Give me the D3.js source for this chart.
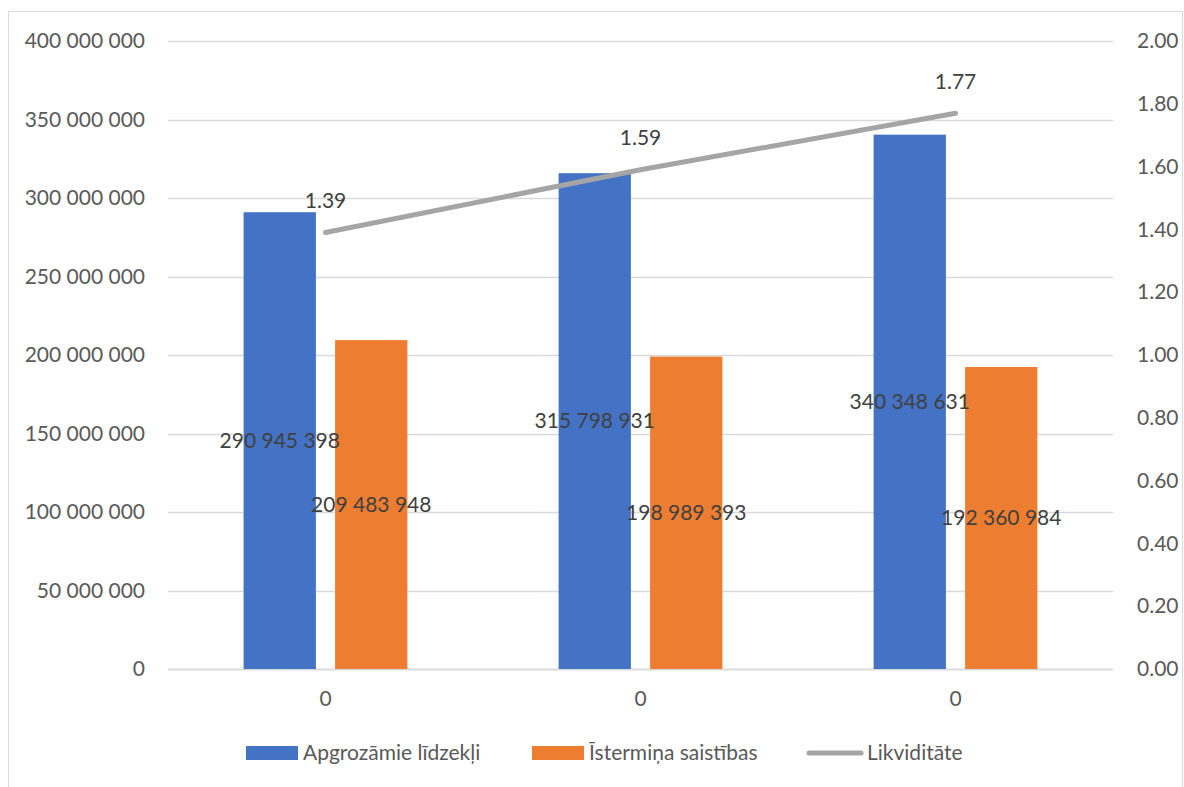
<!DOCTYPE html>
<html><head><meta charset="utf-8">
<script src="https://cdn.jsdelivr.net/npm/d3@7"></script>
<style>body{margin:0;background:#fff}svg{display:block;font-family:Lato,"Open Sans",sans-serif}</style>
</head><body><svg id="c" width="1184" height="787"></svg>
<script>
const categories = ["0","0","0"];
const seriesNames = ["Apgrozāmie līdzekļi","Īstermiņa saistības","Likviditāte"];
const currentAssets = [290945398, 315798931, 340348631];
const shortLiabilities = [209483948, 198989393, 192360984];
const liquidity = [1.39, 1.59, 1.77];
const leftTicks = [0,50000000,100000000,150000000,200000000,250000000,300000000,350000000,400000000];
const rightTicks = [0,0.2,0.4,0.6,0.8,1.0,1.2,1.4,1.6,1.8,2.0];

const colors = ["#4472C4","#ED7D31","#A5A5A5"];
const FS = 21;
const svg = d3.select("#c");
const L=168, R=1113, T=41, B=669;

svg.append("rect").attr("x",8.5).attr("y",11.5).attr("width",1174).attr("height",790)
  .attr("fill","#fff").attr("stroke","#D9D9D9");

const fmt = v => d3.format(",")(v).replace(/,/g," ");
const x = d3.scaleBand().domain(d3.range(categories.length)).range([L,R]);
const yL = d3.scaleLinear().domain([0,400000000]).range([B,T]);
const yR = d3.scaleLinear().domain([0,2]).range([B,T]);

// gridlines
svg.append("g").selectAll("line").data(leftTicks).join("line")
  .attr("x1",L).attr("x2",R).attr("y1",d=>Math.round(yL(d))+0.5).attr("y2",d=>Math.round(yL(d))+0.5)
  .attr("stroke","#D9D9D9").attr("stroke-width",1.3);

// left axis
const axL = svg.append("g").attr("transform",`translate(${L},0)`)
  .call(d3.axisLeft(yL).tickValues(leftTicks).tickFormat(fmt).tickSize(0).tickPadding(23));
axL.select(".domain").remove();
axL.selectAll("text").attr("fill","#595959").attr("font-size",FS).attr("font-family","Lato, sans-serif");

const axR = svg.append("g").attr("transform",`translate(${R},0)`)
  .call(d3.axisRight(yR).tickValues(rightTicks).tickFormat(d3.format(".2f")).tickSize(0).tickPadding(24));
axR.select(".domain").remove();
axR.selectAll("text").attr("fill","#595959").attr("font-size",FS).attr("font-family","Lato, sans-serif");

// category axis
const axB = svg.append("g").attr("transform",`translate(0,${B})`)
  .call(d3.axisBottom(x).tickFormat(i=>categories[i]).tickSize(0).tickPadding(22));
axB.select(".domain").remove();
axB.selectAll("text").attr("fill","#595959").attr("font-size",FS).attr("font-family","Lato, sans-serif");
svg.append("line").attr("x1",L).attr("x2",R).attr("y1",B+0.5).attr("y2",B+0.5).attr("stroke","#D9D9D9").attr("stroke-width",1.3);

// bars
const inner = d3.scaleBand().domain([0,1]).range([0,x.bandwidth()*0.52]).paddingInner(0.21);
const off = x.bandwidth()*0.24;
const series = [currentAssets, shortLiabilities];
series.forEach((vals,s)=>{
  svg.append("g").selectAll("rect").data(vals).join("rect")
    .attr("x",(d,i)=>x(i)+off+inner(s)).attr("width",inner.bandwidth())
    .attr("y",d=>yL(d)).attr("height",d=>B-yL(d)).attr("fill",colors[s]);
});
series.forEach((vals,s)=>{
  svg.append("g").selectAll("text").data(vals).join("text")
    .attr("x",(d,i)=>x(i)+off+inner(s)+inner.bandwidth()/2)
    .attr("y",d=>(yL(d)+B)/2).attr("dy","0.35em").attr("text-anchor","middle")
    .attr("font-size",FS).attr("fill","#404040").text(fmt);
});

// line
const cx = i => x(i)+x.bandwidth()/2;
svg.append("path").datum(liquidity)
  .attr("d",d3.line().x((d,i)=>cx(i)).y(d=>yR(d)))
  .attr("fill","none").attr("stroke",colors[2]).attr("stroke-width",5).attr("stroke-linecap","round");
svg.append("g").selectAll("text").data(liquidity).join("text")
  .attr("x",(d,i)=>cx(i)).attr("y",d=>yR(d)-32).attr("dy","0.35em").attr("text-anchor","middle")
  .attr("font-size",FS).attr("fill","#404040").text(d3.format(".2f"));

// legend
const leg = [{x:246,type:"rect"},{x:532,type:"rect"},{x:807,type:"line"}];
const ly = 753;
leg.forEach((l,i)=>{
  if(l.type==="rect") svg.append("rect").attr("x",l.x).attr("y",ly-7).attr("width",52).attr("height",14).attr("fill",colors[i]);
  else svg.append("line").attr("x1",l.x+2).attr("x2",l.x+54).attr("y1",ly).attr("y2",ly).attr("stroke",colors[i]).attr("stroke-width",5).attr("stroke-linecap","round");
  svg.append("text").attr("x",l.x+(l.type==="rect"?57:60)).attr("y",ly).attr("dy","0.35em")
    .attr("font-size",FS).attr("fill","#595959").text(seriesNames[i]);
});
</script></body></html>
